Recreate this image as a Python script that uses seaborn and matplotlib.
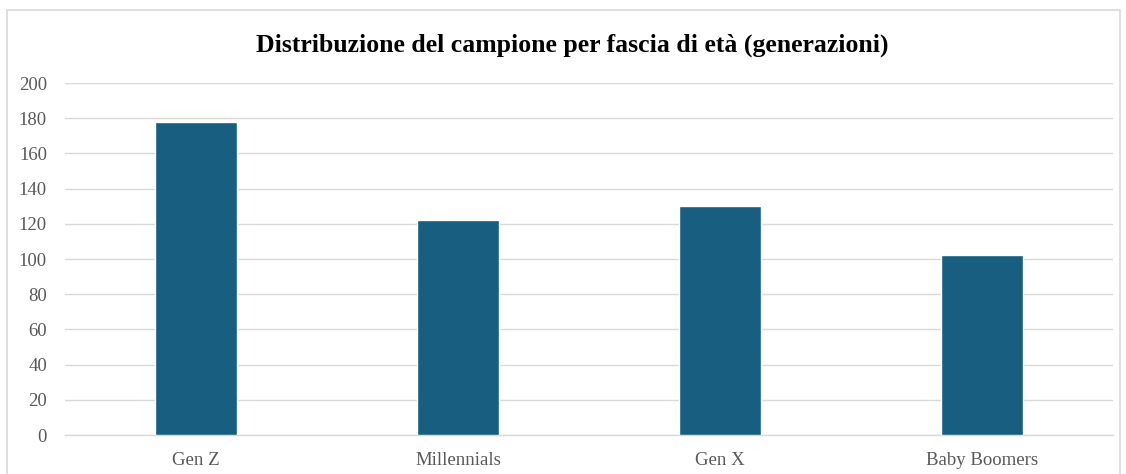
import matplotlib
matplotlib.use("Agg")
import matplotlib.pyplot as plt
import seaborn as sns
import pandas as pd
from matplotlib.patches import Rectangle

categories = ["Gen Z", "Millennials", "Gen X", "Baby Boomers"]
counts = [178, 122, 130, 102]
y_ticks = [0, 20, 40, 60, 80, 100, 120, 140, 160, 180, 200]

df = pd.DataFrame({"generazione": categories, "conteggio": counts})

sns.set_theme(style="white")
plt.rcParams["font.family"] = ["Liberation Serif", "DejaVu Serif"]

W, H = 1126, 474
fig = plt.figure(figsize=(W / 100, H / 100), dpi=100)
ax = fig.add_axes([65 / W, 1 - 435 / H, (1113 - 65) / W, (435 - 83) / H])

sns.barplot(data=df, x="generazione", y="conteggio", color="#175E81",
            width=0.31, saturation=1, ax=ax, zorder=3)

ax.set_ylim(0, 200)
ax.set_yticks(y_ticks)
ax.set_xlim(-0.5, len(categories) - 0.5)
ax.grid(axis="y", color="#D9D9D9", linewidth=1.0, zorder=0)
ax.set_axisbelow(True)
for s in ["top", "right", "left"]:
    ax.spines[s].set_visible(False)
ax.spines["bottom"].set_color("#D9D9D9")
ax.spines["bottom"].set_linewidth(1.0)
ax.tick_params(axis="both", length=0, labelsize=13.5, labelcolor="#595959")
ax.tick_params(axis="y", pad=13)
ax.tick_params(axis="x", pad=12)
ax.set_xlabel("")
ax.set_ylabel("")

fig.text(572 / W, 1 - 45 / H, "Distribuzione del campione per fascia di età (generazioni)",
         ha="center", va="center", fontsize=18.5, fontweight="bold", color="black")

# chart frame
fig.patches.append(Rectangle((7 / W, -0.01), (1120 - 7) / W, 1 - 10 / H + 0.01,
                             transform=fig.transFigure, fill=False,
                             edgecolor="#D9D9D9", linewidth=1.2))

fig.savefig("out.png", dpi=100, facecolor="white")
